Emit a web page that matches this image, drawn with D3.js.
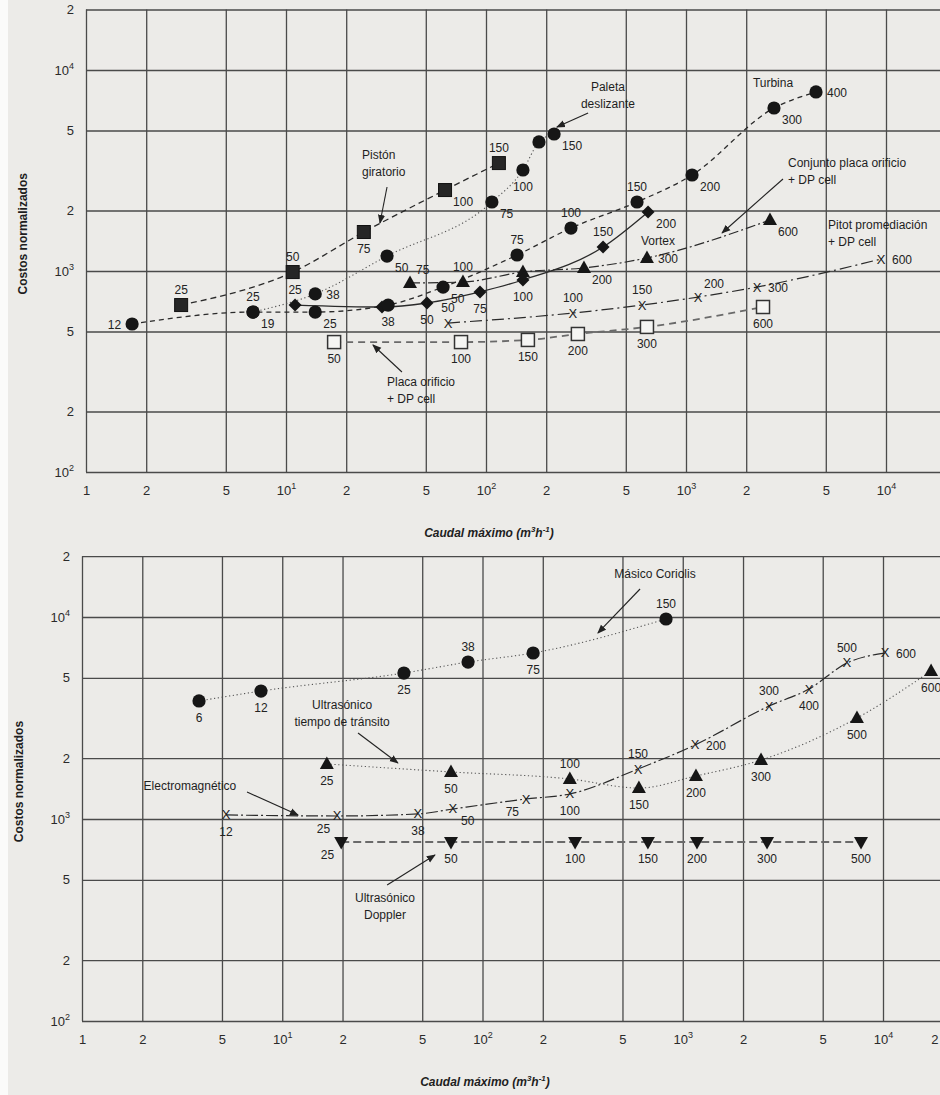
<!DOCTYPE html>
<html>
<head>
<meta charset="utf-8">
<script src="https://cdn.jsdelivr.net/npm/d3@7"></script>
<style>
  html, body { margin: 0; padding: 0; background: #ecebe8; }
  svg { display: block; font-family: "Liberation Sans", Arial, sans-serif; }
</style>
</head>
<body>
<svg id="chart" width="940" height="1095"></svg>
<script>
// ---- Axis ticks (log–log grid, 1-2-5 per decade) ----
const flowTicks = [1, 2, 5, 10, 20, 50, 100, 200, 500, 1000, 2000, 5000, 10000, 20000];
const costTicks = [100, 200, 500, 1000, 2000, 5000, 10000, 20000];
const topFlowLabels = [1, 2, 5, 10, 20, 50, 100, 200, 500, 1000, 2000, 5000, 10000];
const bottomFlowLabels = [1, 2, 5, 10, 20, 50, 100, 200, 500, 1000, 2000, 5000, 10000, 20000];

// ---- Upper panel: positive displacement, turbine, vortex and DP meters ----
const pistonFlow = [2.99, 10.8, 24.5, 62.4, 116];
const pistonCost = [677, 988, 1563, 2528, 3443];
const pistonSize = ["25", "50", "75", "100", "150"];
const pistonLabelAt = ["t", "t", "b", "br", "t"];

const paletaFlow = [6.84, 14.0, 32.0, 107, 153, 184, 219];
const paletaCost = [625, 769, 1187, 2204, 3180, 4385, 4805];
const paletaSize = ["25", "38", "50", "75", "100", "", "150"];
const paletaLabelAt = ["t", "r", "br", "br", "b", "", "br"];

const turbinaFlow = [1.70, 6.84, 14.0, 32.4, 61.0, 143, 266, 569, 1072, 2754, 4467];
const turbinaCost = [545, 625, 625, 677, 832, 1201, 1636, 2204, 3004, 6470, 7775];
const turbinaSize = ["12", "19", "25", "38", "50", "75", "100", "150", "200", "300", "400"];
const turbinaLabelAt = ["l", "br", "br", "b", "br", "t", "t", "t", "br", "br", "r"];

const conjuntoFlow = [11.1, 30.2, 50.7, 93.3, 153, 385, 646];
const conjuntoCost = [677, 662, 693, 787, 902, 1316, 1967];
const conjuntoSize = ["25", "", "50", "75", "100", "150", "200"];
const conjuntoLabelAt = ["t", "", "b", "b", "b", "t", "br"];

const vortexFlow = [41.7, 76.7, 153, 309, 638, 2630];
const vortexCost = [872, 881, 989, 1036, 1161, 1794];
const vortexSize = ["75", "100", "", "200", "300", "600"];
const vortexLabelAt = ["tr", "t", "", "br", "r", "br"];

const pitotFlow = [64.6, 272, 603, 1148, 2265, 9441];
const pitotCost = [551, 618, 677, 742, 832, 1147];
const pitotSize = ["50", "100", "150", "200", "300", "600"];
const pitotLabelAt = ["t", "t", "t", "tr", "r", "r"];

const placaFlow = [17.4, 75.0, 162, 288, 638, 2427];
const placaCost = [443, 443, 454, 486, 527, 662];
const placaSize = ["50", "100", "150", "200", "300", "600"];
const placaLabelAt = ["b", "b", "b", "b", "b", "b"];

// ---- Lower panel: Coriolis, ultrasonic and electromagnetic meters ----
const coriolisFlow = [3.84, 7.83, 40.5, 84.7, 179, 825];
const coriolisCost = [3840, 4300, 5280, 5985, 6635, 9775];
const coriolisSize = ["6", "12", "25", "38", "75", "150"];
const coriolisLabelAt = ["b", "b", "b", "t", "b", "t"];

const transitFlow = [16.7, 69.6, 273, 604, 1164, 2460, 7413, 17380];
const transitCost = [1872, 1710, 1578, 1423, 1633, 1959, 3162, 5400];
const transitSize = ["25", "50", "100", "150", "200", "300", "500", "600"];
const transitLabelAt = ["b", "b", "t", "b", "b", "b", "b", "b"];

const electroFlow = [5.24, 18.8, 47.6, 71.2, 165, 273, 598, 1151, 2697, 4270, 6607, 10230];
const electroCost = [1047, 1035, 1059, 1121, 1256, 1330, 1768, 2325, 3625, 4400, 5920, 6635];
const electroSize = ["12", "25", "38", "50", "75", "100", "150", "200", "300", "400", "500", "600"];
const electroLabelAt = ["b", "bl", "b", "br", "bl", "b", "t", "r", "t", "b", "t", "r"];

const dopplerFlow = [19.7, 69.6, 290, 670, 1178, 2636, 7766];
const dopplerCost = [770, 770, 770, 770, 770, 770, 770];
const dopplerSize = ["25", "50", "100", "150", "200", "300", "500"];
const dopplerLabelAt = ["bl", "b", "b", "b", "b", "b", "b"];

// ---- Callout texts and their pointers (flow, cost) ----
const topNotes = [
  { lines: ["Pistón", "giratorio"], flow: 24.0, cost: 3606, anchor: "start" },
  { lines: ["Paleta", "deslizante"], flow: 407, cost: 7863, anchor: "middle" },
  { lines: ["Turbina"], flow: 2723, cost: 8226, anchor: "middle" },
  { lines: ["Conjunto placa orificio", "+ DP cell"], flow: 3236, cost: 3292, anchor: "start" },
  { lines: ["Vortex"], flow: 724, cost: 1347, anchor: "middle" },
  { lines: ["Pitot promediación", "+ DP cell"], flow: 5129, cost: 1618, anchor: "start" },
  { lines: ["Placa orificio", "+ DP cell"], flow: 32.0, cost: 268, anchor: "start" }
];
const topArrows = [
  { from: [32.0, 2618], to: [29.5, 1733] },
  { from: [324, 6109], to: [226, 5204] },
  { from: [3055, 2868], to: [1514, 1546] },
  { from: [38.0, 314.5], to: [27.2, 428.5] }
];
const bottomNotes = [
  { lines: ["Másico Coriolis"], flow: 727, cost: 15600, anchor: "middle" },
  { lines: ["Ultrasónico", "tiempo de tránsito"], flow: 19.9, cost: 3504, anchor: "middle" },
  { lines: ["Electromagnético"], flow: 3.46, cost: 1392, anchor: "middle" },
  { lines: ["Ultrasónico", "Doppler"], flow: 32.6, cost: 388, anchor: "middle" }
];
const bottomArrows = [
  { from: [612, 13760], to: [377, 8335] },
  { from: [23.9, 2666], to: [37.8, 1893] },
  { from: [6.67, 1360], to: [12.0, 1046] },
  { from: [33.4, 471], to: [57.9, 663] }
];

function zipSeries(flow, cost, size, at) {
  return flow.map((f, i) => ({ flow: f, cost: cost[i], size: size[i], at: at[i] }));
}

const topSeries = [
  { pts: zipSeries(placaFlow, placaCost, placaSize, placaLabelAt), marker: "openSquare", dash: "7,5", width: 1.8, color: "#6a6a6a" },
  { pts: zipSeries(pitotFlow, pitotCost, pitotSize, pitotLabelAt), marker: "cross", dash: "12,4,2,4", width: 1.2, color: "#2a2a2a" },
  { pts: zipSeries(vortexFlow, vortexCost, vortexSize, vortexLabelAt), marker: "triUp", dash: "10,3,2,3", width: 1.2, color: "#2a2a2a" },
  { pts: zipSeries(conjuntoFlow, conjuntoCost, conjuntoSize, conjuntoLabelAt), marker: "diamond", dash: null, width: 1.3, color: "#2a2a2a" },
  { pts: zipSeries(turbinaFlow, turbinaCost, turbinaSize, turbinaLabelAt), marker: "circle", dash: "5,4", width: 1.3, color: "#2a2a2a" },
  { pts: zipSeries(paletaFlow, paletaCost, paletaSize, paletaLabelAt), marker: "circle", dash: "1.2,2.6", width: 1.1, color: "#555" },
  { pts: zipSeries(pistonFlow, pistonCost, pistonSize, pistonLabelAt), marker: "square", dash: "6,4", width: 1.3, color: "#2a2a2a" }
];
const bottomSeries = [
  { pts: zipSeries(dopplerFlow, dopplerCost, dopplerSize, dopplerLabelAt), marker: "triDown", dash: "8,4", width: 2, color: "#6a6a6a" },
  { pts: zipSeries(electroFlow, electroCost, electroSize, electroLabelAt), marker: "cross", dash: "12,3,2,3", width: 1.2, color: "#2a2a2a" },
  { pts: zipSeries(transitFlow, transitCost, transitSize, transitLabelAt), marker: "triUp", dash: "1.2,2.6", width: 1.1, color: "#555" },
  { pts: zipSeries(coriolisFlow, coriolisCost, coriolisSize, coriolisLabelAt), marker: "circle", dash: "1.2,2.6", width: 1.1, color: "#555" }
];

const svg = d3.select("#chart");
const W = 940;

// arrowhead for callout pointers
svg.append("defs").append("marker")
  .attr("id", "arrowHead").attr("viewBox", "0 0 10 10")
  .attr("refX", 9).attr("refY", 5)
  .attr("markerWidth", 9).attr("markerHeight", 9)
  .attr("markerUnits", "userSpaceOnUse")
  .attr("orient", "auto")
  .append("path").attr("d", "M0,1 L10,5 L0,9 Z").attr("fill", "#222");

// page tone with a pale left edge
svg.append("rect").attr("x", 0).attr("y", 0).attr("width", W).attr("height", 1095).attr("fill", "#ecebe8");
svg.append("rect").attr("x", 0).attr("y", 0).attr("width", 8).attr("height", 1095).attr("fill", "#fbfbfa");

const labelOffset = {
  t: [0, -11, "middle"], b: [0, 21, "middle"], r: [11, 5, "start"], l: [-11, 5, "end"],
  br: [8, 16, "start"], bl: [-7, 17, "end"], tr: [6, -9, "start"], tl: [-6, -9, "end"]
};

function supLabel(sel, v) {
  const e = Math.log10(v);
  const lead = v / Math.pow(10, Math.floor(e + 1e-9));
  sel.text(null);
  if (Math.abs(e - Math.round(e)) < 1e-9 && Math.round(e) >= 1) {
    sel.append("tspan").text("10");
    sel.append("tspan").attr("dy", -6).attr("font-size", 9).text(Math.round(e));
  } else {
    sel.text(Math.round(lead));
  }
}

function drawMarker(g, type, x, y) {
  const fill = "#161616";
  if (type === "circle") {
    g.append("circle").attr("cx", x).attr("cy", y).attr("r", 6.6).attr("fill", fill);
  } else if (type === "square") {
    g.append("rect").attr("x", x - 6.5).attr("y", y - 6.5).attr("width", 13).attr("height", 13)
      .attr("fill", "#262626").attr("stroke", "#111").attr("stroke-width", 1);
  } else if (type === "openSquare") {
    g.append("rect").attr("x", x - 6.5).attr("y", y - 6.5).attr("width", 13).attr("height", 13)
      .attr("fill", "#f5f5f3").attr("stroke", "#333").attr("stroke-width", 1.5);
  } else if (type === "diamond") {
    g.append("path").attr("d", `M${x},${y - 6.5}L${x + 6.5},${y}L${x},${y + 6.5}L${x - 6.5},${y}Z`).attr("fill", fill);
  } else if (type === "triUp") {
    g.append("path").attr("d", `M${x},${y - 7.5}L${x + 7},${y + 5}L${x - 7},${y + 5}Z`).attr("fill", fill);
  } else if (type === "triDown") {
    g.append("path").attr("d", `M${x},${y + 7.5}L${x + 7},${y - 5}L${x - 7},${y - 5}Z`).attr("fill", fill);
  } else if (type === "cross") {
    g.append("text").attr("x", x).attr("y", y + 4.5).attr("text-anchor", "middle")
      .attr("font-size", 13).attr("fill", "#1a1a1a").text("X");
  }
}

function drawPanel(opt) {
  const { left, right, top, bottom, xScale, yScale, series, notes, arrows, xLabels, yTitleX, xTitleY } = opt;
  const g = svg.append("g");

  // grid via axes
  g.append("g").attr("transform", `translate(0,${bottom})`)
    .call(d3.axisBottom(xScale).tickValues(flowTicks).tickSize(-(bottom - top)).tickFormat(""))
    .call(a => a.select(".domain").remove())
    .call(a => a.selectAll("line").attr("stroke", "#4a4a4a").attr("stroke-width", 1.3));
  g.append("g").attr("transform", `translate(${left},0)`)
    .call(d3.axisLeft(yScale).tickValues(costTicks).tickSize(-(right - left)).tickFormat(""))
    .call(a => a.select(".domain").remove())
    .call(a => a.selectAll("line").attr("stroke", "#4a4a4a").attr("stroke-width", 1.3));

  // tick labels; the last one sits at the page edge, so it is pulled inside
  const xl = g.append("g").attr("transform", `translate(0,${bottom})`)
    .call(d3.axisBottom(xScale).tickValues(xLabels).tickSize(0).tickPadding(14));
  xl.select(".domain").remove();
  xl.selectAll("text").attr("font-size", 13).attr("fill", "#2a2a2a")
    .attr("font-family", "Liberation Sans, Arial, sans-serif")
    .each(function (d) { supLabel(d3.select(this), d); })
    .filter(d => xScale(d) > W - 6)
    .attr("text-anchor", "end").attr("dx", d => (W - 2) - xScale(d));

  const yl = g.append("g").attr("transform", `translate(${left},0)`)
    .call(d3.axisLeft(yScale).tickValues(costTicks).tickSize(0).tickPadding(12));
  yl.select(".domain").remove();
  yl.selectAll("text").attr("font-size", 13).attr("fill", "#2a2a2a")
    .attr("font-family", "Liberation Sans, Arial, sans-serif")
    .each(function (d) { supLabel(d3.select(this), d); });

  // axis titles
  g.append("text")
    .attr("transform", `translate(${yTitleX},${(top + bottom) / 2 - 7}) rotate(-90)`)
    .attr("text-anchor", "middle").attr("font-size", 12).attr("font-weight", "bold")
    .attr("fill", "#1e1e1e").text("Costos normalizados");
  const xt = g.append("text").attr("x", left + 403).attr("y", xTitleY)
    .attr("text-anchor", "middle").attr("font-size", 12).attr("font-weight", "bold")
    .attr("font-style", "italic").attr("fill", "#1e1e1e");
  xt.append("tspan").text("Caudal máximo (m");
  xt.append("tspan").attr("dy", -5).attr("font-size", 8).text("3");
  xt.append("tspan").attr("dy", 5).text("h");
  xt.append("tspan").attr("dy", -5).attr("font-size", 8).text("-1");
  xt.append("tspan").attr("dy", 5).text(")");

  // lines
  const line = d3.line().x(d => xScale(d.flow)).y(d => yScale(d.cost)).curve(d3.curveMonotoneX);
  series.forEach(s => {
    g.append("path").datum(s.pts).attr("d", line)
      .attr("fill", "none").attr("stroke", s.color).attr("stroke-width", s.width)
      .attr("stroke-dasharray", s.dash);
  });

  // callouts
  arrows.forEach(a => {
    g.append("line")
      .attr("x1", xScale(a.from[0])).attr("y1", yScale(a.from[1]))
      .attr("x2", xScale(a.to[0])).attr("y2", yScale(a.to[1]))
      .attr("stroke", "#222").attr("stroke-width", 1.1).attr("marker-end", "url(#arrowHead)");
  });
  notes.forEach(n => {
    const t = g.append("text").attr("x", xScale(n.flow)).attr("y", yScale(n.cost))
      .attr("text-anchor", n.anchor).attr("font-size", 12).attr("fill", "#1e1e1e");
    n.lines.forEach((ln, i) => {
      t.append("tspan").attr("x", xScale(n.flow)).attr("dy", i === 0 ? 0 : 17).text(ln);
    });
  });

  // markers and size labels
  series.forEach(s => {
    s.pts.forEach(p => {
      const x = xScale(p.flow), y = yScale(p.cost);
      drawMarker(g, s.marker, x, y);
      if (p.size) {
        const o = labelOffset[p.at];
        g.append("text").attr("x", x + o[0]).attr("y", y + o[1])
          .attr("text-anchor", o[2]).attr("font-size", 12).attr("fill", "#222").text(p.size);
      }
    });
  });
}

// Upper panel
const xTop = d3.scaleLog().domain([1, 20000]).range([86, 86 + 200 * Math.log10(20000)]);
const yTop = d3.scaleLog().domain([100, 20000]).range([472, 472 - 201 * Math.log10(200)]);
drawPanel({
  left: 86, right: W, top: yTop(20000), bottom: 472,
  xScale: xTop, yScale: yTop, series: topSeries, notes: topNotes, arrows: topArrows,
  xLabels: topFlowLabels, yTitleX: 27, xTitleY: 537
});

// Lower panel
const xBot = d3.scaleLog().domain([1, 20000]).range([82, 82 + 200.25 * Math.log10(20000)]);
const yBot = d3.scaleLog().domain([100, 20000]).range([1021, 1021 - 202 * Math.log10(200)]);
drawPanel({
  left: 82, right: W, top: yBot(20000), bottom: 1021,
  xScale: xBot, yScale: yBot, series: bottomSeries, notes: bottomNotes, arrows: bottomArrows,
  xLabels: bottomFlowLabels, yTitleX: 23, xTitleY: 1086
});
</script>
</body>
</html>
